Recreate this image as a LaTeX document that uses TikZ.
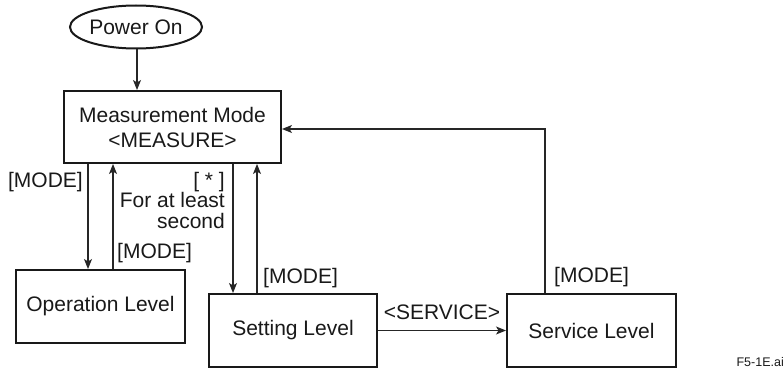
\documentclass[tikz,border=0pt]{standalone}
\usepackage{fontspec}
\setmainfont{Liberation Sans}
\usetikzlibrary{arrows.meta,shapes.geometric}
\begin{document}
\begin{tikzpicture}[x=1pt,y=-1pt,
  box/.style={draw=black!90,line width=2pt,minimum width=#1,minimum height=73pt,inner sep=0pt,align=center,font=\fontsize{21}{25}\selectfont,text=black!90},
  lbl/.style={font=\fontsize{21}{20.5}\selectfont,inner sep=0pt,text=black!90},
  conn/.style={draw=black!85,line width=1.1pt,-{Stealth[length=10pt,width=8pt,inset=2.5pt]}}]
\useasboundingbox (0,0) rectangle (784,369);
% nodes
\node[ellipse,draw=black!90,line width=2pt,minimum width=118pt,minimum height=43pt,inner sep=0pt,font=\fontsize{21}{25}\selectfont,text=black!90] (pow) at (136,27) {Power On};
\node[box=217pt,minimum height=72pt] (meas) at (172.5,127) {Measurement Mode\\\textless MEASURE\textgreater};
\node[box=169pt] (op) at (100.5,306.5) {Operation Level};
\node[box=168pt] (set) at (293,330.5) {Setting Level};
\node[box=169pt] (serv) at (591.5,330.5) {Service Level};
% helper coordinates
\coordinate (xp) at (137,0);
\coordinate (xa) at (88,0);
\coordinate (xb) at (113,0);
\coordinate (xc) at (233,0);
\coordinate (xd) at (257,0);
\coordinate (corner) at (545,129);
% connectors
\draw[conn] (pow.south -| xp) -- (meas.north -| xp);
\draw[conn] (meas.south -| xa) -- (op.north -| xa);
\draw[conn] (op.north -| xb) -- (meas.south -| xb);
\draw[conn] (meas.south -| xc) -- (set.north -| xc);
\draw[conn] (set.north -| xd) -- (meas.south -| xd);
\draw[conn] (set.east) -- (serv.west);
\draw[conn] (serv.north -| corner) |- (meas.east |- corner);
% labels
\node[lbl,anchor=east] (l1) at (83,182) {[MODE]};
\node[lbl,anchor=north east,align=right] (l2) at (225,172) {[ * ]\\For at least\\second};
\node[lbl,anchor=west] (l3) at (117,253) {[MODE]};
\node[lbl,anchor=west] (l4) at (263,278) {[MODE]};
\node[lbl] (l5) at (442,312) {\textless SERVICE\textgreater};
\node[lbl,anchor=west] (l6) at (554,277) {[MODE]};
\node[font=\fontsize{12.5}{14}\selectfont,inner sep=0pt,anchor=east,text=black!90] (fn) at (784,362) {F5-1E.ai};
\end{tikzpicture}
\end{document}
